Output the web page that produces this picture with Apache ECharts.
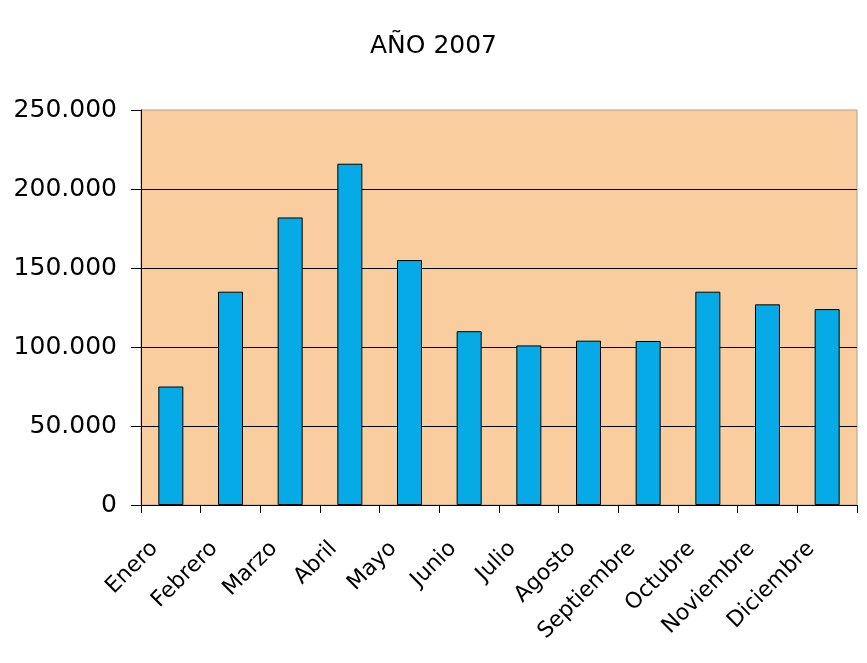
<!DOCTYPE html>
<html>
<head>
<meta charset="utf-8">
<script src="https://cdn.jsdelivr.net/npm/echarts@6/dist/echarts.min.js"></script>
<style>html,body{margin:0;padding:0;background:#fff;}#c{width:867px;height:663px;}</style>
</head>
<body>
<div id="c"></div>
<script>
var categories = ['Enero','Febrero','Marzo','Abril','Mayo','Junio','Julio','Agosto','Septiembre','Octubre','Noviembre','Diciembre'];
var values = [75000,135000,182000,216000,155000,110000,101000,104000,103800,135000,127000,124000];
var titleText = 'AÑO 2007';

var chart = echarts.init(document.getElementById('c'));
chart.setOption({
  animation: false,
  backgroundColor: '#ffffff',
  title: {
    text: titleText, left: 'center', top: 29,
    textStyle: {fontFamily: 'DejaVu Sans', fontSize: 25, fontWeight: 'normal', color: '#000'}
  },
  grid: {left: 141, right: 10, top: 110, bottom: 158, show: true, backgroundColor: '#F9CD9D', borderColor: '#b0a090', borderWidth: 1},
  xAxis: {
    type: 'category', data: categories,
    axisLine: {lineStyle: {color: '#000', width: 1}},
    axisTick: {show: true, length: 8, interval: 0, lineStyle: {color: '#000'}},
    axisLabel: {interval: 0, rotate: 45, margin: 24, padding: [0, 23, 0, 0], fontFamily: 'DejaVu Sans', fontSize: 22, color: '#000'}
  },
  yAxis: {
    type: 'value', min: 0, max: 250000, interval: 50000,
    axisLine: {show: true, lineStyle: {color: '#000', width: 1}},
    axisTick: {show: true, length: 10, lineStyle: {color: '#000'}},
    splitLine: {show: true, showMaxLine: false, lineStyle: {color: '#000', width: 1}},
    axisLabel: {
      margin: 24, fontFamily: 'DejaVu Sans', fontSize: 25, color: '#000',
      formatter: function (v) { return v === 0 ? '0' : String(v).replace(/\B(?=(\d{3})+(?!\d))/g, '.'); }
    }
  },
  series: [{
    type: 'bar', data: values, barWidth: 25,
    itemStyle: {color: '#05AAE6', borderColor: '#000', borderWidth: 1}
  }]
});
</script>
</body>
</html>
